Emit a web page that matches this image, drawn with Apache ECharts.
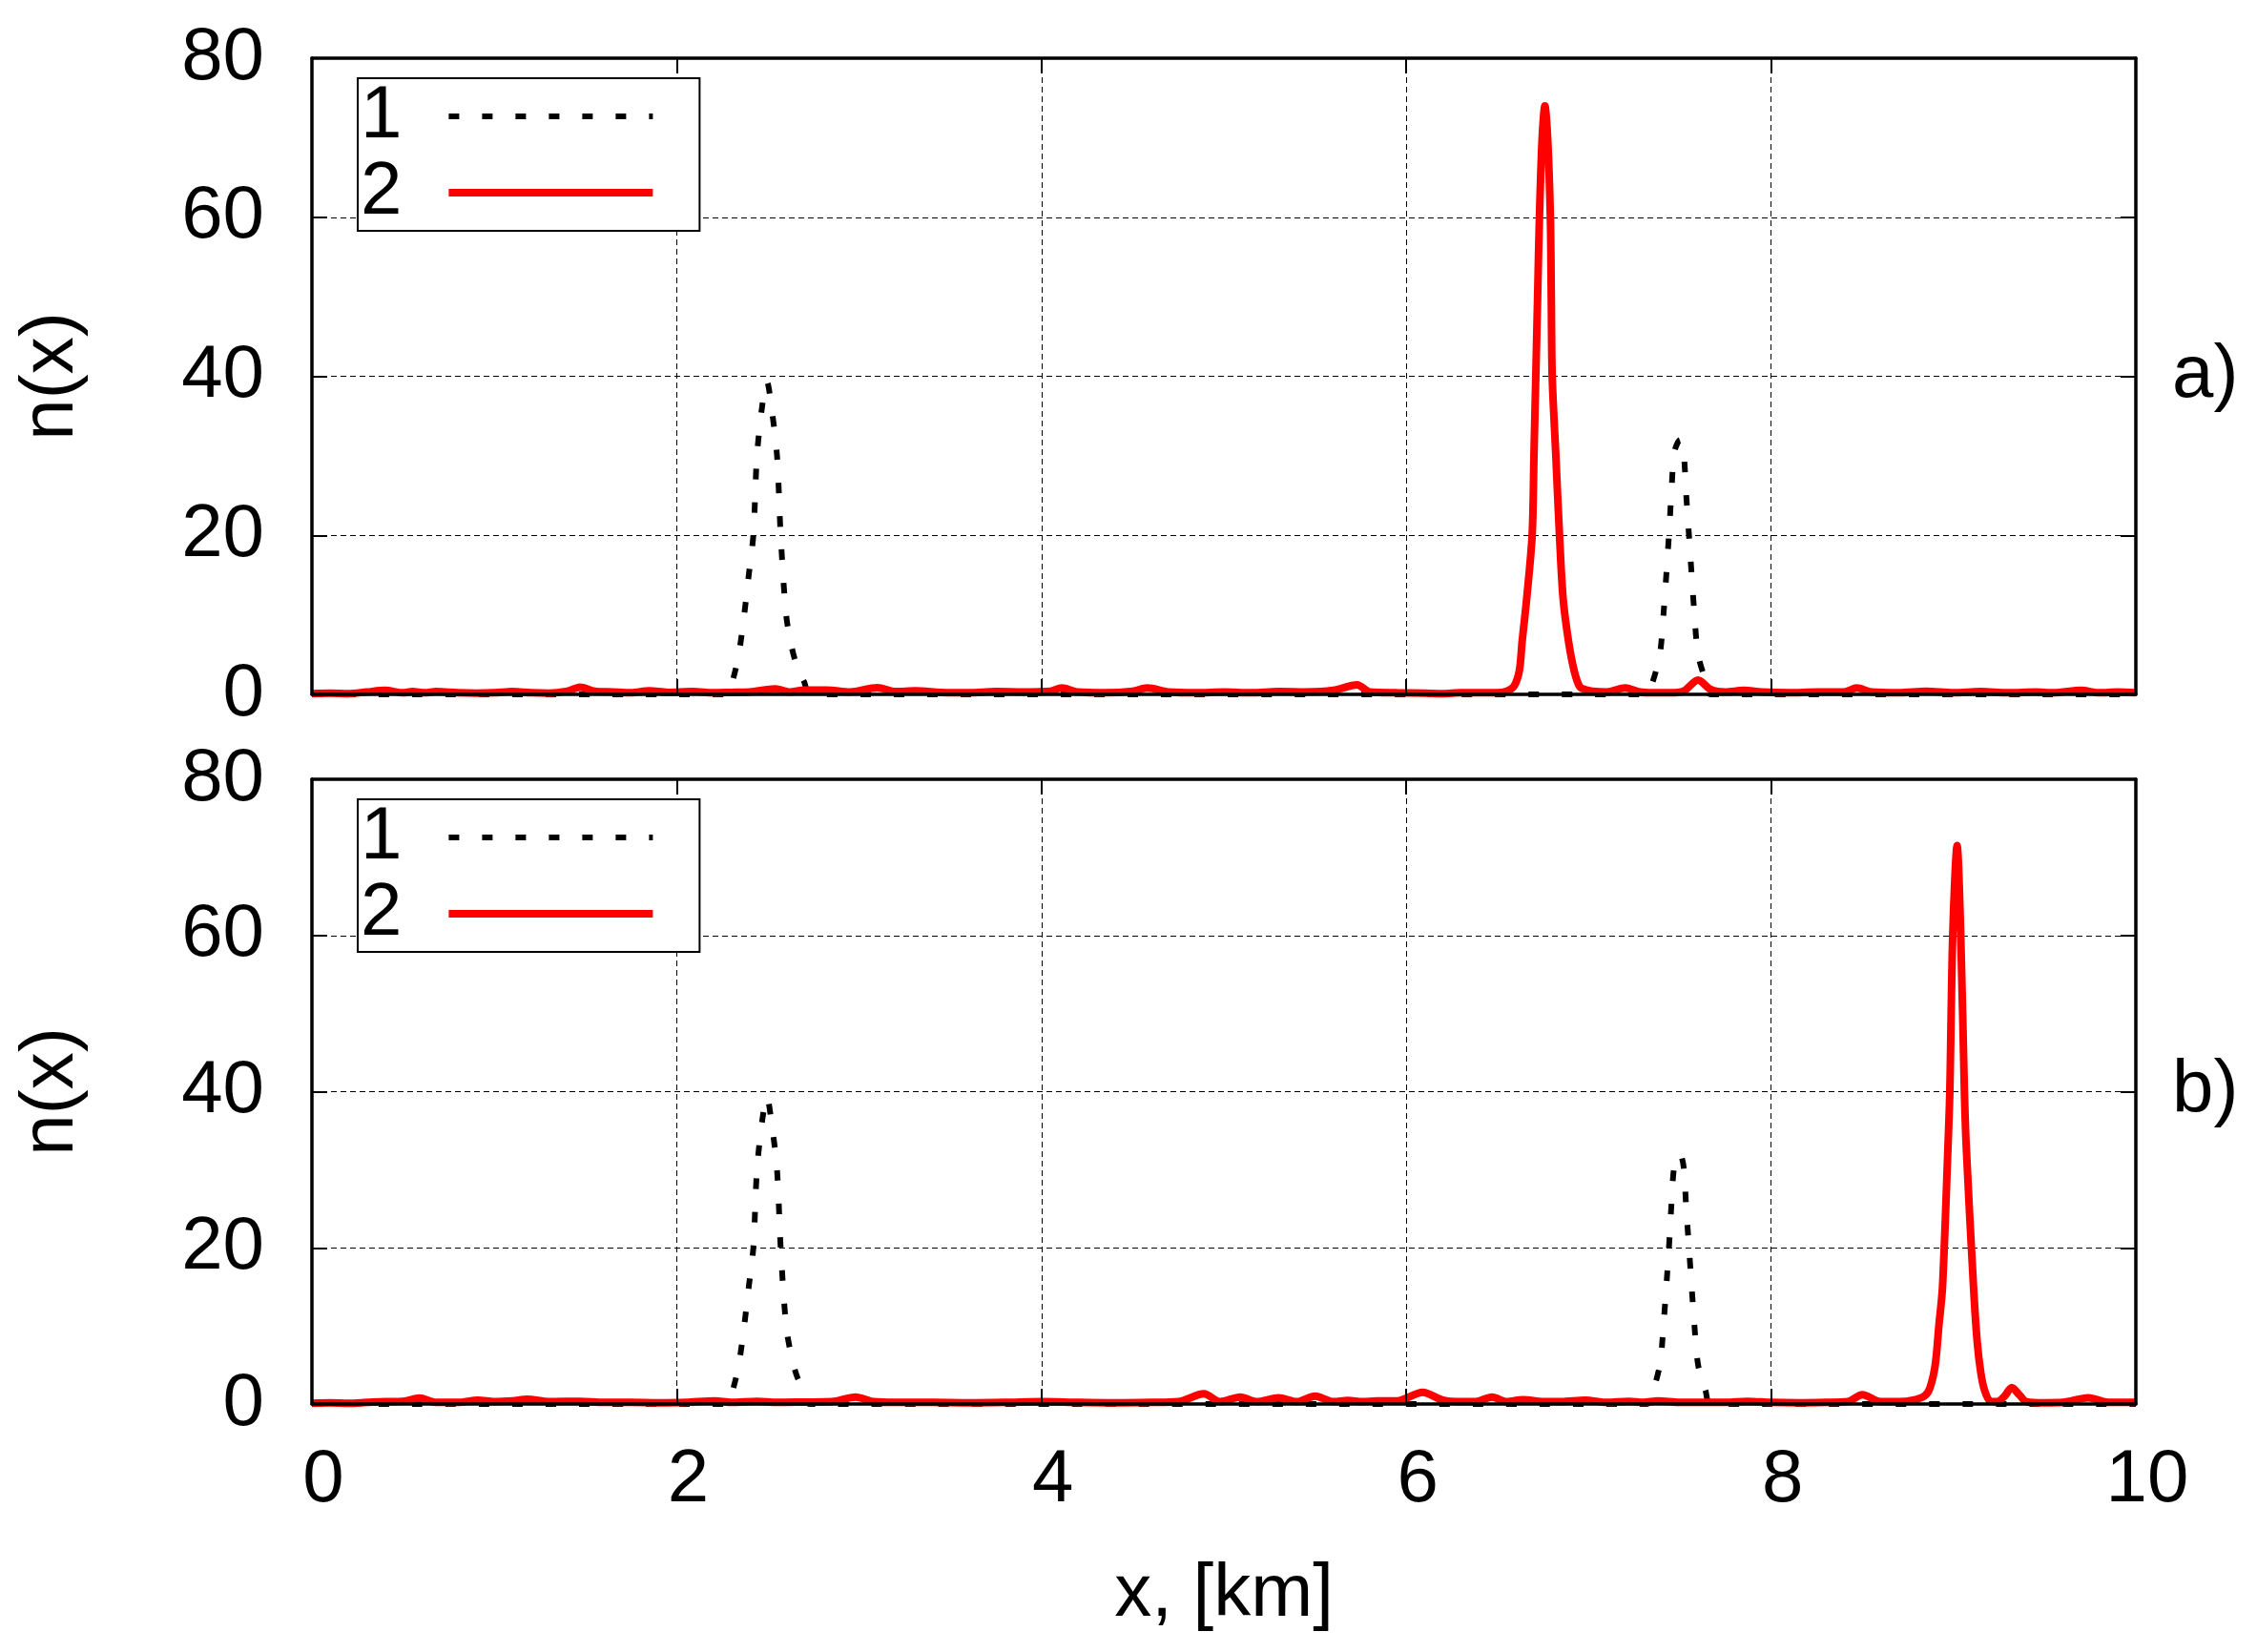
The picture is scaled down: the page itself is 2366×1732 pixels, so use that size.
<!DOCTYPE html>
<html><head><meta charset="utf-8">
<script src="https://cdn.jsdelivr.net/npm/echarts@6/dist/echarts.min.js"></script>
<style>html,body{margin:0;padding:0;background:#fff}#c{width:2366px;height:1732px}</style>
</head><body><div id="c"></div>
<script>
// ---- data ----
const xRange = [0, 10];
const xInterval = 2;
const yRange = [0, 80];
const yInterval = 20;
const seriesNames = ['1', '2'];
const panelLabels = ['a)', 'b)'];
const xTitle = 'x, [km]';
const yTitle = 'n(x)';

// curve 1 (black dotted), same in both panels
const blackX = [0, 2.28, 2.31, 2.34, 2.37, 2.395, 2.42, 2.44, 2.47, 2.495, 2.52, 2.55, 2.57, 2.60, 2.63, 2.66, 2.70, 2.73,
  7.32, 7.35, 7.39, 7.41, 7.44, 7.455, 7.47, 7.50, 7.52, 7.535, 7.55, 7.58, 7.60, 7.64, 7.67, 10];
const blackY = [0, 0, 2, 5, 10, 15, 20, 30, 36.5, 39.3, 36, 30, 20, 10, 6, 3.5, 1.5, 0,
  0, 1.5, 5, 10, 20, 26, 30.5, 32, 30.5, 25, 20, 10, 5, 1.8, 0, 0];

// curve 2 (red), panel a)
const redAX = [0, 0.1, 0.2, 0.3, 0.4, 0.5, 0.55, 0.62, 0.68, 0.8, 0.9, 1.0, 1.1, 1.2, 1.3, 1.4, 1.47, 1.55, 1.65, 1.75,
  1.85, 1.95, 2.09, 2.2, 2.3, 2.4, 2.54, 2.62, 2.70, 2.82, 2.95, 3.10, 3.2, 3.31, 3.45, 3.6, 3.75, 3.9, 4.05, 4.11,
  4.2, 4.35, 4.5, 4.58, 4.7, 4.85, 5.0, 5.15, 5.3, 5.45, 5.6, 5.73, 5.8, 5.95, 6.1, 6.2, 6.3, 6.4, 6.5, 6.55,
  6.59, 6.62, 6.635, 6.66, 6.69, 6.70, 6.71, 6.72, 6.73, 6.745, 6.76, 6.775, 6.79, 6.795, 6.80, 6.82, 6.84, 6.86,
  6.89, 6.92, 6.95, 6.98, 7.02, 7.1, 7.2, 7.28, 7.35, 7.45, 7.52, 7.6, 7.67, 7.75, 7.85, 7.95, 8.1, 8.25, 8.4,
  8.47, 8.55, 8.7, 8.85, 9.0, 9.15, 9.3, 9.45, 9.55, 9.7, 9.8, 9.9, 10];
const redAY = [0.1, 0.15, 0.1, 0.3, 0.5, 0.2, 0.35, 0.2, 0.35, 0.2, 0.15, 0.2, 0.35, 0.2, 0.15, 0.4, 0.9, 0.4, 0.3, 0.2,
  0.45, 0.25, 0.35, 0.2, 0.25, 0.3, 0.7, 0.3, 0.55, 0.55, 0.3, 0.85, 0.35, 0.45, 0.25, 0.2, 0.35, 0.3, 0.4, 0.8,
  0.3, 0.2, 0.4, 0.8, 0.3, 0.2, 0.3, 0.2, 0.35, 0.3, 0.5, 1.2, 0.3, 0.2, 0.15, 0.1, 0.2, 0.2, 0.2, 0.4,
  1, 3, 6.6, 12, 20, 30, 40, 50, 60, 70, 74, 70, 60, 50, 40, 30, 20, 12,
  6.6, 3, 1, 0.6, 0.4, 0.3, 0.8, 0.3, 0.2, 0.2, 0.4, 1.8, 0.6, 0.3, 0.5, 0.3, 0.2, 0.3, 0.3,
  0.8, 0.3, 0.2, 0.4, 0.2, 0.35, 0.2, 0.3, 0.2, 0.5, 0.2, 0.3, 0.2];

// curve 2 (red), panel b)
const redBX = [0, 0.1, 0.2, 0.3, 0.4, 0.5, 0.59, 0.68, 0.8, 0.91, 1.0, 1.1, 1.18, 1.3, 1.47, 1.6, 1.75, 1.9, 2.05, 2.21,
  2.3, 2.44, 2.55, 2.7, 2.85, 2.98, 3.08, 3.2, 3.4, 3.6, 3.8, 4.01, 4.2, 4.4, 4.6, 4.75, 4.89, 4.98, 5.09, 5.18,
  5.30, 5.4, 5.50, 5.6, 5.68, 5.76, 5.84, 5.95, 6.09, 6.2, 6.3, 6.38, 6.47, 6.55, 6.64, 6.75, 6.85, 6.98, 7.1, 7.22,
  7.3, 7.38, 7.5, 7.65, 7.75, 7.87, 8.0, 8.15, 8.3, 8.42, 8.50, 8.6, 8.7, 8.78, 8.84, 8.87, 8.90, 8.92, 8.94, 8.97,
  8.98, 8.996, 9.02, 9.04, 9.06, 9.07, 9.11, 9.13, 9.15, 9.17, 9.20, 9.24, 9.28, 9.32, 9.36, 9.40, 9.5, 9.6, 9.74, 9.85, 10];
const redBY = [0.1, 0.15, 0.1, 0.2, 0.3, 0.35, 0.75, 0.2, 0.2, 0.5, 0.3, 0.4, 0.6, 0.3, 0.35, 0.2, 0.2, 0.15, 0.2, 0.4,
  0.2, 0.35, 0.2, 0.25, 0.3, 0.9, 0.3, 0.2, 0.2, 0.15, 0.2, 0.3, 0.2, 0.15, 0.2, 0.3, 1.3, 0.3, 0.9, 0.3,
  0.8, 0.3, 1.0, 0.3, 0.45, 0.3, 0.4, 0.4, 1.5, 0.5, 0.3, 0.3, 0.9, 0.3, 0.55, 0.3, 0.3, 0.5, 0.2, 0.35,
  0.2, 0.4, 0.2, 0.2, 0.2, 0.35, 0.2, 0.15, 0.2, 0.3, 1.2, 0.3, 0.3, 0.5, 1, 2, 5, 10, 15, 33,
  40, 60, 71.5, 60, 40, 33, 15, 8, 4, 1.8, 0.4, 0.3, 1, 2.1, 1.2, 0.3, 0.15, 0.2, 0.8, 0.2, 0.2];

// ---- build chart ----
const FONT = 'Liberation Sans';
const FS = 78;
const zip = (xs, ys) => xs.map((x, i) => [x, ys[i]]);

const gridBoxes = [
  { left: 327, width: 1912, top: 61, height: 667 },
  { left: 327, width: 1912, top: 817, height: 655 }
];
const legendTops = [82, 838];
const redData = [zip(redAX, redAY), zip(redBX, redBY)];
const blackData = zip(blackX, blackY);

const blackStyle = { color: '#000', width: 6, type: [11, 24], cap: 'butt' };
const redStyle = { color: '#ff0000', width: 8, cap: 'butt' };
const frameLine = { show: true, onZero: false, lineStyle: { color: '#000', width: 3.5 } };
const tickIn = { show: true, inside: true, length: 16, lineStyle: { color: '#000', width: 2 } };
const gridLine = { show: true, lineStyle: { color: '#000', width: 1, type: [6, 4] } };
const noSymbol = { color: 'rgba(0,0,0,0)', borderWidth: 0, opacity: 0 };

const xAxis = [], yAxis = [], series = [], legend = [];
gridBoxes.forEach((g, p) => {
  const isLast = p === gridBoxes.length - 1;
  const xBase = { type: 'value', gridIndex: p, min: xRange[0], max: xRange[1], interval: xInterval };
  const yBase = { type: 'value', gridIndex: p, min: yRange[0], max: yRange[1], interval: yInterval };
  xAxis.push(Object.assign({}, xBase, { position: 'bottom', z: 0, axisLine: { show: false, onZero: false },
    axisTick: { show: false }, axisLabel: { show: false }, splitLine: gridLine }));
  xAxis.push(Object.assign({}, xBase, { position: 'bottom', z: 10, axisLine: frameLine, axisTick: tickIn,
    splitLine: { show: false },
    axisLabel: { show: isLast, fontSize: FS, fontFamily: FONT, color: '#000', margin: 41, lineHeight: FS, padding: [0, 0, 0, 24] },
    name: isLast ? xTitle : '', nameLocation: 'middle', nameGap: 161,
    nameTextStyle: { fontSize: FS, fontFamily: FONT, color: '#000', lineHeight: FS } }));
  xAxis.push(Object.assign({}, xBase, { position: 'top', z: 10, axisLine: frameLine, axisTick: tickIn,
    splitLine: { show: false }, axisLabel: { show: false } }));

  yAxis.push(Object.assign({}, yBase, { position: 'left', z: 0, axisLine: { show: false, onZero: false },
    axisTick: { show: false }, axisLabel: { show: false }, splitLine: gridLine }));
  yAxis.push(Object.assign({}, yBase, { position: 'left', z: 10, axisLine: frameLine, axisTick: tickIn,
    splitLine: { show: false },
    axisLabel: { show: true, fontSize: FS, fontFamily: FONT, color: '#000', margin: 50 },
    name: yTitle, nameLocation: 'middle', nameRotate: 90, nameGap: 234,
    nameTextStyle: { fontSize: FS, fontFamily: FONT, color: '#000', lineHeight: FS } }));
  yAxis.push(Object.assign({}, yBase, { position: 'right', z: 10, axisLine: frameLine, axisTick: tickIn,
    splitLine: { show: false }, axisLabel: { show: false },
    name: panelLabels[p], nameLocation: 'middle', nameRotate: 0, nameGap: 38,
    nameTextStyle: { fontSize: FS, fontFamily: FONT, color: '#000', lineHeight: FS } }));

  series.push({ type: 'line', name: seriesNames[0], xAxisIndex: 3 * p, yAxisIndex: 3 * p, data: blackData,
    symbol: 'none', showSymbol: false, clip: false, z: 2, animation: false, color: '#000', smooth: 0.3,
    lineStyle: blackStyle });
  series.push({ type: 'line', name: seriesNames[1], xAxisIndex: 3 * p, yAxisIndex: 3 * p, data: redData[p],
    symbol: 'none', showSymbol: false, clip: false, z: 3, animation: false, color: '#ff0000', smooth: 0.3,
    lineStyle: redStyle });

  legend.push({
    data: [
      { name: seriesNames[0], itemStyle: noSymbol, lineStyle: blackStyle },
      { name: seriesNames[1], itemStyle: noSymbol, lineStyle: redStyle }
    ],
    orient: 'vertical', align: 'right', left: 375, top: legendTops[p],
    itemGap: 0, itemWidth: 214, itemHeight: 14, padding: [0, 45, 0, 3],
    borderColor: '#000', borderWidth: 2, backgroundColor: '#fff', selectedMode: false,
    itemStyle: noSymbol, lineStyle: { width: 'inherit', type: 'inherit' },
    textStyle: { fontSize: FS, fontFamily: FONT, color: '#000', lineHeight: 80, padding: [0, 44, 0, 0] } });
});

const chart = echarts.init(document.getElementById('c'), null, { renderer: 'canvas' });
chart.setOption({
  animation: false,
  backgroundColor: '#fff',
  textStyle: { fontFamily: FONT },
  grid: gridBoxes.map(g => Object.assign({ containLabel: false, show: false }, g)),
  xAxis, yAxis, series, legend
});
</script></body></html>
